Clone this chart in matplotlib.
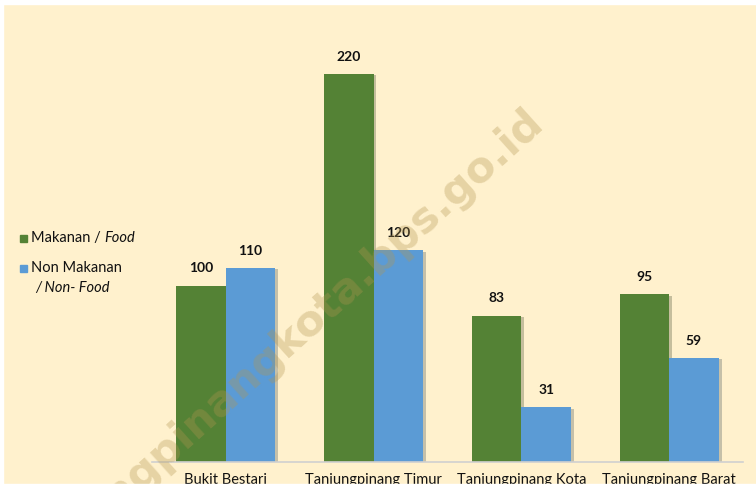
import matplotlib.pyplot as plt
import matplotlib.patheffects as pe
from matplotlib.patches import Rectangle
import numpy as np

categories = ['Bukit Bestari', 'Tanjungpinang Timur', 'Tanjungpinang Kota', 'Tanjungpinang Barat']
food = [100, 220, 83, 95]
non_food = [110, 120, 31, 59]

bg = '#FFF1CD'
green = '#548235'
blue = '#5B9BD5'

plt.rcParams['font.family'] = ['Lato', 'DejaVu Sans']

fig = plt.figure(figsize=(7.56, 4.9), dpi=100)
fig.patch.set_facecolor(bg)
ax = fig.add_axes([0.201, 0.0571, 0.782, 0.902])
ax.set_facecolor(bg)

x = np.arange(len(categories))
w = 0.335
shadow = [pe.SimplePatchShadow(offset=(2, -1), alpha=0.25), pe.Normal()]
b1 = ax.bar(x - w / 2, food, w, color=green, path_effects=shadow, zorder=2)
b2 = ax.bar(x + w / 2, non_food, w, color=blue, path_effects=shadow, zorder=2)

# value labels
for bars in (b1, b2):
    for b in bars:
        ax.annotate(f'{int(b.get_height())}', (b.get_x() + b.get_width() / 2, b.get_height()),
                    xytext=(0, 8), textcoords='offset points', ha='center', va='bottom',
                    fontsize=10, fontweight='bold', color='#111111')

ax.set_xlim(-0.5, 3.5)
ax.set_ylim(0, 250.5)
ax.set_yticks([])
ax.set_xticks(x)
ax.set_xticklabels(categories, fontsize=10.5, color='#111111')
ax.tick_params(axis='x', length=0, pad=8)
for s in ['top', 'right', 'left']:
    ax.spines[s].set_visible(False)
ax.spines['bottom'].set_color('#D0D0D0')
ax.spines['bottom'].set_linewidth(1.2)

# legend on the left
fig.patches.append(Rectangle((20 / 756, 1 - 242 / 490), 7 / 756, 7 / 490,
                             transform=fig.transFigure, color=green))
fig.patches.append(Rectangle((20 / 756, 1 - 272 / 490), 7 / 756, 7 / 490,
                             transform=fig.transFigure, color=blue))
t1 = fig.text(31 / 756, 1 - 238 / 490, 'Makanan / ', fontsize=10.5, va='center', color='#111111')
ax.annotate('Food', xy=(1, 0), xycoords=t1, va='bottom', ha='left',
            fontsize=10.5, style='italic', color='#111111')
fig.text(31 / 756, 1 - 268 / 490, 'Non Makanan', fontsize=10.5, va='center', color='#111111')
fig.text(35 / 756, 1 - 288 / 490, '/ Non- Food', fontsize=10.5, va='center', style='italic', color='#111111')

# watermark, anchored at its end
fig.text(538 / 756, 1 - 118 / 490, 'tanjungpinangkota.bps.go.id', fontsize=31, rotation=42,
         rotation_mode='anchor', ha='right', va='center', color='#B39550', alpha=0.33,
         zorder=5, family='DejaVu Sans', fontweight='bold')

# white frame edges
fig.patches.append(Rectangle((0, 0), 1, 6 / 490, transform=fig.transFigure,
                             color='white', zorder=10))
fig.patches.append(Rectangle((0, 1 - 4 / 490), 1, 4 / 490, transform=fig.transFigure,
                             color='white', zorder=10))
fig.patches.append(Rectangle((0, 0), 3 / 756, 1, transform=fig.transFigure,
                             color='white', zorder=10))

fig.savefig('out.png', dpi=100, facecolor=bg)
